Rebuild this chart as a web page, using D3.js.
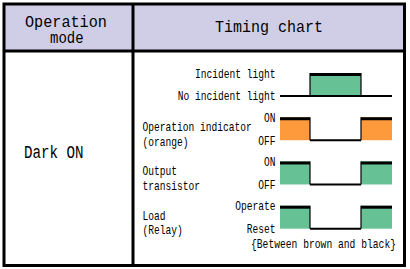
<!DOCTYPE html>
<html>
<head>
<meta charset="utf-8">
<style>
body { margin: 0; background: #fff; }
svg { display: block; }
text { font-family: "Liberation Mono", "DejaVu Sans Mono", monospace; fill: #000; }
.big { font-size: 16.5px; }
.small { font-size: 13px; }
</style>
</head>
<body>
<svg id="svg"></svg>
<script src="https://cdnjs.cloudflare.com/ajax/libs/d3/7.8.5/d3.min.js"></script>
<script>
// header / table texts
var headLeft = ["Operation", "mode"]
var headRight = "Timing chart"
var modeName = "Dark ON"

// timing rows
var rowNames = ["light", "indicator", "output", "load"]
var highLabels = ["Incident light", "ON", "ON", "Operate"]
var lowLabels = ["No incident light", "OFF", "OFF", "Reset"]
var sideLabels = [[], ["Operation indicator", "(orange)"], ["Output", "transistor"], ["Load", "(Relay)"]]
var rowColors = ["#66c294", "#ff9a3c", "#66c294", "#66c294"]
var note = "{Between brown and black}"

// transition times and state for each segment (1 = high)
var edges = [0, 30, 81, 112]
var states = {
  light:     [0, 1, 0],
  indicator: [1, 0, 1],
  output:    [1, 0, 1],
  load:      [1, 0, 1]
}

var W = 410, H = 269
var svg = d3.select("#svg").attr("width", W).attr("height", H)

var x = d3.scaleLinear().domain([0, 112]).range([280, 392])
var yBase = d3.scalePoint().domain(rowNames).range([96, 228.7])
var amp = 23

// narrow gothic look: fix width per character
function txt(g, s, px, py, cls, anchor, cw) {
  return g.append("text")
    .attr("class", cls)
    .attr("x", px).attr("y", py)
    .attr("text-anchor", anchor || "start")
    .attr("textLength", s.length * cw)
    .attr("lengthAdjust", "spacingAndGlyphs")
    .text(s)
}

// header background
svg.append("rect").attr("x", 4).attr("y", 4).attr("width", 400.5).attr("height", 47)
  .attr("fill", "#d0cee6")

txt(svg, headLeft[0], 25, 26.5, "big", "start", 9.1)
txt(svg, headLeft[1], 50, 43, "big", "start", 8.4)
txt(svg, headRight, 215, 31.5, "big", "start", 9)
svg.append("text").attr("class", "big").style("font-size", "17.5px")
  .attr("x", 24).attr("y", 158.3)
  .attr("textLength", modeName.length * 8.5).attr("lengthAdjust", "spacingAndGlyphs")
  .text(modeName)

// waveforms
var chart = svg.append("g")
rowNames.forEach(function(r, i) {
  var base = yBase(r), top = base - amp
  var st = states[r]
  var g = chart.append("g")
  st.forEach(function(s, k) {
    var x0 = x(edges[k]), x1 = x(edges[k + 1])
    if (s) {
      g.append("rect").attr("x", x0).attr("y", top).attr("width", x1 - x0).attr("height", base - top)
        .attr("fill", rowColors[i])
      g.append("rect").attr("x", x0).attr("y", top).attr("width", x1 - x0).attr("height", 3)
        .attr("fill", "#000")
    }
    if (k > 0 && st[k] != st[k - 1]) {
      g.append("line").attr("x1", x0).attr("x2", x0).attr("y1", top).attr("y2", base)
        .attr("stroke", "#000").attr("stroke-width", 1.2)
    }
  })
  // low level line (incident light row keeps it under the pulse)
  st.forEach(function(s, k) {
    if (!s || r == "light") {
      g.append("line").attr("x1", x(edges[k])).attr("x2", x(edges[k + 1]))
        .attr("y1", base).attr("y2", base)
        .attr("stroke", "#000").attr("stroke-width", 2)
    }
  })
  txt(g, highLabels[i], 275.5, top + 4.7, "small", "end", 5.75)
  txt(g, lowLabels[i], 275.5, base + 4.3, "small", "end", 5.75)
  sideLabels[i].forEach(function(s, j) {
    txt(g, s, 142.5, top + 14 + j * 14.5, "small", "start", 5.75)
  })
})
txt(svg, note, 251, 248, "small", "start", 5.8)

// table lines
svg.append("rect").attr("x", 4).attr("y", 4).attr("width", 400.5).attr("height", 261.5)
  .attr("fill", "none").attr("stroke", "#000").attr("stroke-width", 3)
svg.append("line").attr("x1", 4).attr("x2", 404.5).attr("y1", 51).attr("y2", 51)
  .attr("stroke", "#000").attr("stroke-width", 3)
svg.append("line").attr("x1", 133).attr("x2", 133).attr("y1", 4).attr("y2", 265.5)
  .attr("stroke", "#000").attr("stroke-width", 3)
</script>
</body>
</html>
